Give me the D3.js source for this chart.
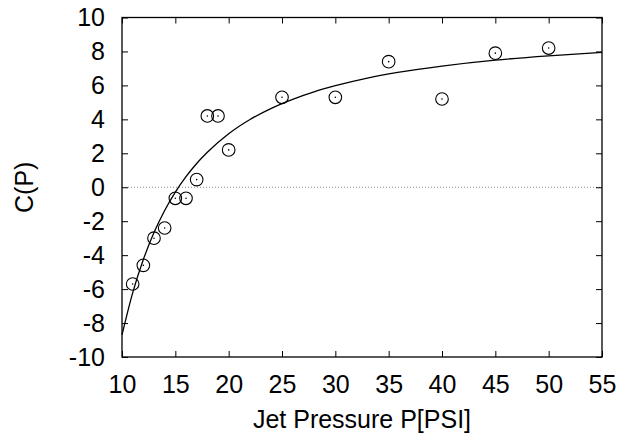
<!DOCTYPE html>
<html>
<head>
<meta charset="utf-8">
<script src="https://cdn.jsdelivr.net/npm/d3@7"></script>
<style>
  html, body { margin: 0; padding: 0; background: #fff; }
  svg { display: block; }
  text { font-family: "Liberation Sans", Arial, sans-serif; fill: #000; }
</style>
</head>
<body>
<svg id="chart" width="632" height="437"></svg>
<script>
// Measured data points
const pressure = [11, 12, 13, 14, 15, 16, 17, 18, 19, 20, 25, 30, 35, 40, 45, 50];
const coefficient = [-5.7, -4.6, -3.0, -2.4, -0.65, -0.65, 0.45, 4.2, 4.2, 2.2, 5.3, 5.3, 7.4, 5.2, 7.9, 8.2];

// Fitted curve
const curveP = [10, 11, 12, 13, 14, 15, 16, 17, 18, 20, 22, 24, 26, 28, 30, 33, 36, 40, 45, 50, 55];
const curveC = [-8.7, -6.22, -4.26, -2.67, -1.37, -0.29, 0.62, 1.40, 2.06, 3.15, 3.99, 4.65, 5.18, 5.62, 5.98, 6.43, 6.78, 7.14, 7.49, 7.74, 7.94];

const xTicks = [10, 15, 20, 25, 30, 35, 40, 45, 50, 55];
const yTicks = [-10, -8, -6, -4, -2, 0, 2, 4, 6, 8, 10];
const xTitle = "Jet Pressure P[PSI]";
const yTitle = "C(P)";

(function () {
const svg = d3.select("#chart");
const mLeft = 122, mRight = 602, mTop = 17.5, mBottom = 357;

const x = d3.scaleLinear().domain([10, 55]).range([mLeft, mRight]);
const y = d3.scaleLinear().domain([-10, 10]).range([mBottom, mTop]);

const fs = 25;
const fmt = d => String(d);

// zero line (dotted)
svg.append("line")
  .attr("x1", x(10)).attr("x2", x(55))
  .attr("y1", y(0)).attr("y2", y(0))
  .attr("stroke", "#8a8a8a").attr("stroke-width", 1)
  .attr("stroke-dasharray", "1,2");

// axes
const gB = svg.append("g").attr("transform", `translate(0,${mBottom})`)
  .call(d3.axisBottom(x).tickValues(xTicks).tickSize(-6).tickPadding(18).tickFormat(fmt));
const gT = svg.append("g").attr("transform", `translate(0,${mTop})`)
  .call(d3.axisTop(x).tickValues(xTicks).tickSize(-6).tickFormat(""));
const gL = svg.append("g").attr("transform", `translate(${mLeft},0)`)
  .call(d3.axisLeft(y).tickValues(yTicks).tickSize(-6).tickPadding(17).tickFormat(fmt));
const gR = svg.append("g").attr("transform", `translate(${mRight},0)`)
  .call(d3.axisRight(y).tickValues(yTicks).tickSize(-6).tickFormat(""));

[gB, gT, gL, gR].forEach(g => {
  g.select(".domain").remove();
  g.selectAll(".tick line").attr("stroke", "#000").attr("stroke-width", 1);
  g.selectAll("text").attr("font-size", fs).attr("font-family", "Liberation Sans, Arial, sans-serif").attr("fill", "#000");
});

// frame
svg.append("rect")
  .attr("x", mLeft).attr("y", mTop)
  .attr("width", mRight - mLeft).attr("height", mBottom - mTop)
  .attr("fill", "none").attr("stroke", "#000").attr("stroke-width", 1.3);

// fitted curve
const line = d3.line()
  .x((d, i) => x(curveP[i]))
  .y((d, i) => y(curveC[i]))
  .curve(d3.curveMonotoneX);
svg.append("path")
  .datum(curveP)
  .attr("d", line)
  .attr("fill", "none").attr("stroke", "#000").attr("stroke-width", 1.3);

// markers
const pts = svg.append("g").selectAll("g").data(pressure).join("g")
  .attr("transform", (d, i) => `translate(${x(d)},${y(coefficient[i])})`);
pts.append("circle").attr("r", 6.3).attr("fill", "none").attr("stroke", "#000").attr("stroke-width", 1.1);
pts.append("circle").attr("r", 0.8).attr("fill", "#000");

// titles
svg.append("text")
  .attr("x", (mLeft + mRight) / 2).attr("y", 428)
  .attr("text-anchor", "middle").attr("font-size", fs)
  .text(xTitle);
svg.append("text")
  .attr("transform", `translate(33,${(mTop + mBottom) / 2}) rotate(-90)`)
  .attr("text-anchor", "middle").attr("font-size", fs)
  .text(yTitle);
})();
</script>
</body>
</html>
